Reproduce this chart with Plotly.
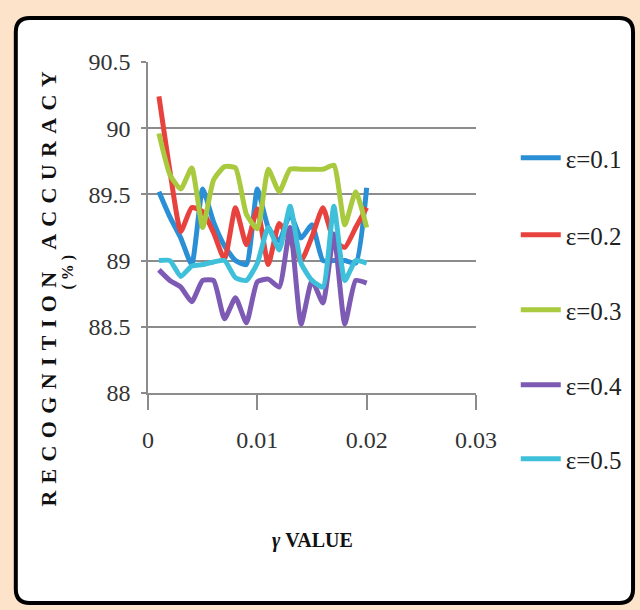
import plotly.graph_objects as go

# ---- data ----
gamma = [0.001, 0.002, 0.003, 0.004, 0.005, 0.006, 0.007, 0.008, 0.009, 0.010,
         0.011, 0.012, 0.013, 0.014, 0.015, 0.016, 0.017, 0.018, 0.019, 0.020]
eps_01 = [89.52, 89.33, 89.17, 88.97, 89.54, 89.29, 89.11, 89.00, 88.97, 89.54,
          89.25, 89.15, 89.35, 89.17, 89.27, 89.00, 89.00, 89.00, 88.98, 89.55]
eps_02 = [90.24, 89.68, 89.22, 89.40, 89.37, 89.21, 89.01, 89.40, 89.12, 89.39,
          88.97, 89.28, 89.15, 89.00, 89.18, 89.40, 89.15, 89.10, 89.25, 89.40]
eps_03 = [89.96, 89.65, 89.54, 89.70, 89.25, 89.61, 89.71, 89.70, 89.35, 89.24,
          89.69, 89.52, 89.69, 89.69, 89.69, 89.69, 89.72, 89.27, 89.52, 89.25]
eps_04 = [88.93, 88.85, 88.80, 88.69, 88.85, 88.85, 88.56, 88.72, 88.53, 88.84,
          88.86, 88.80, 89.25, 88.52, 88.85, 88.68, 89.20, 88.52, 88.85, 88.83]
eps_05 = [89.00, 89.00, 88.88, 88.96, 88.97, 88.99, 89.00, 88.87, 88.85, 88.98,
          89.25, 89.08, 89.41, 88.98, 88.85, 88.80, 89.41, 88.85, 89.00, 88.98]
series_names = ["ε=0.1", "ε=0.2", "ε=0.3", "ε=0.4", "ε=0.5"]
series_values = [eps_01, eps_02, eps_03, eps_04, eps_05]
x_ticks = [0, 0.01, 0.02, 0.03]
x_tick_text = ["0", "0.01", "0.02", "0.03"]
y_ticks = [88, 88.5, 89, 89.5, 90, 90.5]
y_tick_text = ["88", "88.5", "89", "89.5", "90", "90.5"]

# ---- style ----
colors = ["#2B8FD6", "#E8423E", "#A9C93E", "#7D5BB4", "#3FC0DA"]
legend_centers = [158, 235, 310, 385, 459]   # pixel rows of legend entries
W, H = 640, 610
L, R, T, B = 148, 478, 62, 393   # plot area in pixels
SERIF = "Liberation Serif, Times New Roman, serif"
PEACH = "#FDE3CA"


def px(x):
    return (x - L) / (R - L)


def py(y):
    return (B - y) / (B - T)


fig = go.Figure()
legend_layout = {}
for i, (name, vals) in enumerate(zip(series_names, series_values)):
    lid = "legend" if i == 0 else f"legend{i + 1}"
    fig.add_trace(go.Scatter(
        x=gamma, y=vals, mode="lines", name=name,
        line=dict(color=colors[i], width=5, shape="spline", smoothing=0.5),
        legend=lid,
    ))
    legend_layout[lid] = dict(
        x=px(518), y=py(legend_centers[i]), xanchor="left", yanchor="middle",
        bgcolor="rgba(0,0,0,0)",
        font=dict(family=SERIF, size=25, color="#222222"), itemwidth=40)

# rounded white frame
x0, x1, y0, y1, r = px(15), px(636), py(18), py(603), 14
rx = r / (R - L)
ry = r / (B - T)
path = (f"M {x0+rx},{y0} L {x1-rx},{y0} Q {x1},{y0} {x1},{y0-ry} "
        f"L {x1},{y1+ry} Q {x1},{y1} {x1-rx},{y1} "
        f"L {x0+rx},{y1} Q {x0},{y1} {x0},{y1+ry} "
        f"L {x0},{y0-ry} Q {x0},{y0} {x0+rx},{y0} Z")
fig.add_shape(type="path", path=path, xref="paper", yref="paper",
              line=dict(color="#000000", width=4), fillcolor="#FFFFFF",
              layer="below")

sp = "\u2004"
ytitle = sp.join("RECOGNITION") + sp * 3 + sp.join("ACCURACY")
fig.add_annotation(text=f"<b>{ytitle}</b>",
                   xref="paper", yref="paper", x=px(47), y=py(289),
                   textangle=-90, showarrow=False,
                   font=dict(family=SERIF, size=22, color="#111111"),
                   xanchor="center", yanchor="middle")
fig.add_annotation(text="<b>( % )</b>",
                   xref="paper", yref="paper", x=px(68), y=py(272),
                   textangle=-90, showarrow=False,
                   font=dict(family=SERIF, size=16, color="#111111"),
                   xanchor="center", yanchor="middle")
fig.add_annotation(text="<b><i>γ</i> VALUE</b>",
                   xref="paper", yref="paper", x=px(313), y=py(540),
                   showarrow=False,
                   font=dict(family=SERIF, size=20, color="#111111"),
                   xanchor="center", yanchor="middle")

fig.update_layout(
    width=W, height=H,
    margin=dict(l=L, r=W - R, t=T, b=H - B, pad=0),
    paper_bgcolor=PEACH,
    plot_bgcolor="rgba(0,0,0,0)",
    font=dict(family=SERIF, size=24, color="#333333"),
    showlegend=True,
    xaxis=dict(range=[0, 0.03], tickvals=x_ticks, ticktext=x_tick_text,
               showgrid=False, zeroline=False, showline=True,
               linecolor="#8C8C8C", linewidth=2, ticks="outside",
               ticklen=15, tickwidth=1.5, tickcolor="#8C8C8C",
               ticklabelstandoff=9),
    yaxis=dict(range=[88, 90.5], tickvals=y_ticks, ticktext=y_tick_text,
               showgrid=True, gridcolor="#8C8C8C", gridwidth=2,
               zeroline=False, showline=True, linecolor="#8C8C8C",
               linewidth=1.5, ticks="outside", ticklen=5, tickwidth=1.5,
               tickcolor="#8C8C8C", ticklabelstandoff=6),
    **legend_layout,
)

post = ("document.body.style.margin='0';document.body.style.padding='0';"
        f"document.body.style.background='{PEACH}';"
        "document.documentElement.style.overflow='hidden';")
fig.write_html("out.html", post_script=post,
               config={"displayModeBar": False})
